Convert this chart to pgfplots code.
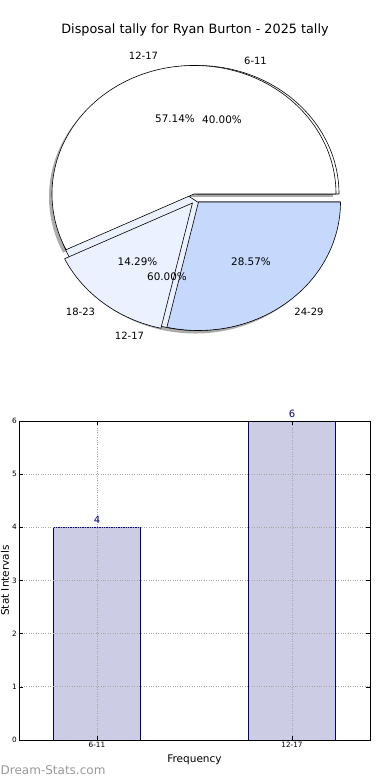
\documentclass[border=0pt]{standalone}
\usepackage{fontspec}
\setmainfont{DejaVu Sans}
\usepackage{pgfplots}
\pgfplotsset{compat=1.18}
\definecolor{barfill}{HTML}{CCCCE5}
\definecolor{navyc}{HTML}{000080}
\definecolor{pielight}{HTML}{EBF1FF}
\definecolor{pieblue}{HTML}{C6D9FD}
\definecolor{wm}{HTML}{999999}
% slice: {cx}{cy}{start}{end}{fill}
\newcommand{\slice}[5]{%
  \filldraw[fill=#5, draw=black, line width=0.6pt, line join=round]
    (axis cs:#1,#2) -- (axis cs:{#1+142*cos(#3)},{#2+128.5*sin(#3)})
    arc[start angle=#3, end angle=#4, x radius=142, y radius=128.5] -- cycle;}
\newcommand{\shadowslice}[4]{%
  \fill[gray!65]
    (axis cs:#1,#2) -- (axis cs:{#1+142*cos(#3)},{#2+128.5*sin(#3)})
    arc[start angle=#3, end angle=#4, x radius=142, y radius=128.5] -- cycle;}
\begin{document}
\begin{tikzpicture}
\useasboundingbox (0,0) rectangle (390pt,780pt);
% ---------- pie ----------
\begin{axis}[at={(0pt,0pt)}, anchor=south west, scale only axis,
  width=390pt, height=780pt, xmin=0, xmax=390, ymin=0, ymax=780,
  hide axis, clip=false]
\node[font=\fontsize{12.8}{14}\selectfont] at (axis cs:195,750) {Disposal tally for Ryan Burton - 2025 tally};
% shadows
\shadowslice{191}{583}{0}{205.704}
\shadowslice{195}{575}{205.704}{360}
% pie A (6-11 40%, 12-17 60%)
\slice{197}{586}{0}{144}{white}
\slice{197.5}{578}{144}{360}{pielight}
% pie B (12-17 57.14%, 18-23 14.29%, 24-29 28.57%)
\slice{194}{586}{0}{205.704}{white}
\slice{192.5}{577}{205.704}{257.148}{pielight}
\slice{198.5}{578}{257.148}{360}{pieblue}
\node[font=\fontsize{10}{12}\selectfont] at (axis cs:143.5,724) {12-17};
\node[font=\fontsize{10}{12}\selectfont] at (axis cs:255.5,719) {6-11};
\node[font=\fontsize{10.4}{12}\selectfont] at (axis cs:175,661) {57.14\%};
\node[font=\fontsize{10.4}{12}\selectfont] at (axis cs:222,660) {40.00\%};
\node[font=\fontsize{10.4}{12}\selectfont] at (axis cs:137.5,518) {14.29\%};
\node[font=\fontsize{10.4}{12}\selectfont] at (axis cs:167,503.5) {60.00\%};
\node[font=\fontsize{10.4}{12}\selectfont] at (axis cs:251,518) {28.57\%};
\node[font=\fontsize{10}{12}\selectfont] at (axis cs:80.5,468) {18-23};
\node[font=\fontsize{10}{12}\selectfont] at (axis cs:129.5,444) {12-17};
\node[font=\fontsize{10}{12}\selectfont] at (axis cs:309,468) {24-29};
\node[font=\fontsize{12}{13}\selectfont, text=wm, anchor=west, inner sep=0pt] at (axis cs:0.5,10) {Dream-Stats.com};
\end{axis}
% ---------- bars ----------
\begin{axis}[at={(19pt,40pt)}, anchor=south west, scale only axis,
  width=351pt, height=319pt,
  xmin=-0.4, xmax=1.4, ymin=0, ymax=6,
  ytick={0,1,2,3,4,5,6}, xtick={0,1}, xticklabels={6-11,12-17},
  ybar, bar width=87pt,
  axis on top,
  tick align=inside, major tick length=4pt,
  tick style={black, line width=0.6pt},
  grid=major, grid style={dotted, gray!70, line width=0.7pt},
  axis line style={line width=0.9pt},
  /pgf/number format/assume math mode=true,
  ticklabel style={font=\fontsize{7.3}{8}\selectfont},
  yticklabel style={inner sep=2pt},
  xticklabel style={inner sep=2pt},
  xlabel={Frequency}, ylabel={Stat Intervals},
  label style={font=\fontsize{10.5}{12}\selectfont},
  xlabel style={at={(axis description cs:0.5,-0.0627)}, anchor=center},
  ylabel style={at={(axis description cs:-0.04,0.5)}, anchor=center},
  nodes near coords,
  nodes near coords style={text=navyc, font=\fontsize{10}{12}\selectfont},
  ]
\addplot[fill=barfill, draw=navyc, line width=0.7pt] coordinates {(0,4) (1,6)};
\end{axis}
\end{tikzpicture}
\end{document}
